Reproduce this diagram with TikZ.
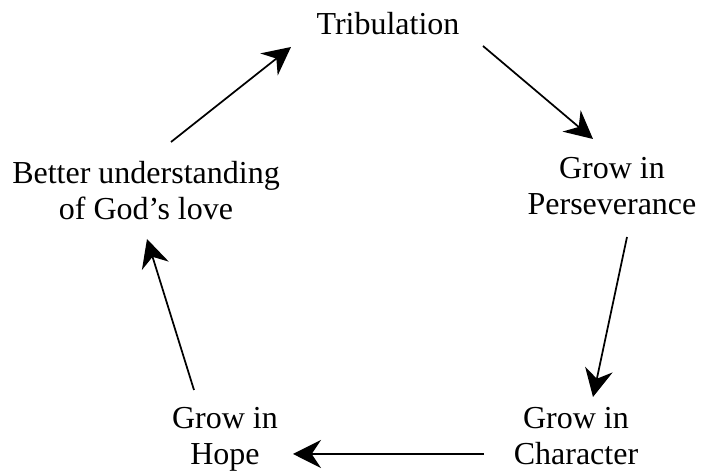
\documentclass[tikz,border=0pt]{standalone}
\usepackage{fontspec}
\setmainfont{Liberation Serif}
\usetikzlibrary{arrows.meta}

\tikzset{every picture/.style={line width=0.75pt}}
\tikzset{
  stage/.style={anchor=base, align=center, inner sep=0.75pt, font=\fontsize{24}{27.3}\selectfont},
  cyclearrow/.style={line width=1.3pt, -{Stealth[length=21pt, width=21pt, inset=7pt]}}
}

\begin{document}
\begin{tikzpicture}[x=0.75pt,y=0.75pt,yscale=-1,xscale=1]

\useasboundingbox (0,0) rectangle (701,473);

% base anchor sits on the last line
\node [stage] (trib) at (388,35) {Tribulation};
\node [stage] (pers) at (612,215) {Grow in\\Perseverance};
\node [stage] (char) at (576,465) {Grow in\\Character};
\node [stage] (hope) at (225,465) {Grow in\\Hope};
\node [stage] (love) at (146,220) {Better understanding\\of God's love};

\coordinate (trib-out) at (483,46);
\coordinate (pers-in) at (593,139);
\coordinate (pers-out) at (627,237);
\coordinate (char-in) at (593,397);
\coordinate (char-out) at (484,454);
\coordinate (hope-in) at (293,454);
\coordinate (hope-out) at (194,390);
\coordinate (love-in) at (147,239);
\coordinate (love-out) at (171,142);
\coordinate (trib-in) at (291,47);

\draw [cyclearrow] (trib-out) -- (pers-in);
\draw [cyclearrow] (pers-out) -- (char-in);
\draw [cyclearrow] (char-out) -- (hope-in);
\draw [cyclearrow] (hope-out) -- (love-in);
\draw [cyclearrow] (love-out) -- (trib-in);

\end{tikzpicture}
\end{document}
